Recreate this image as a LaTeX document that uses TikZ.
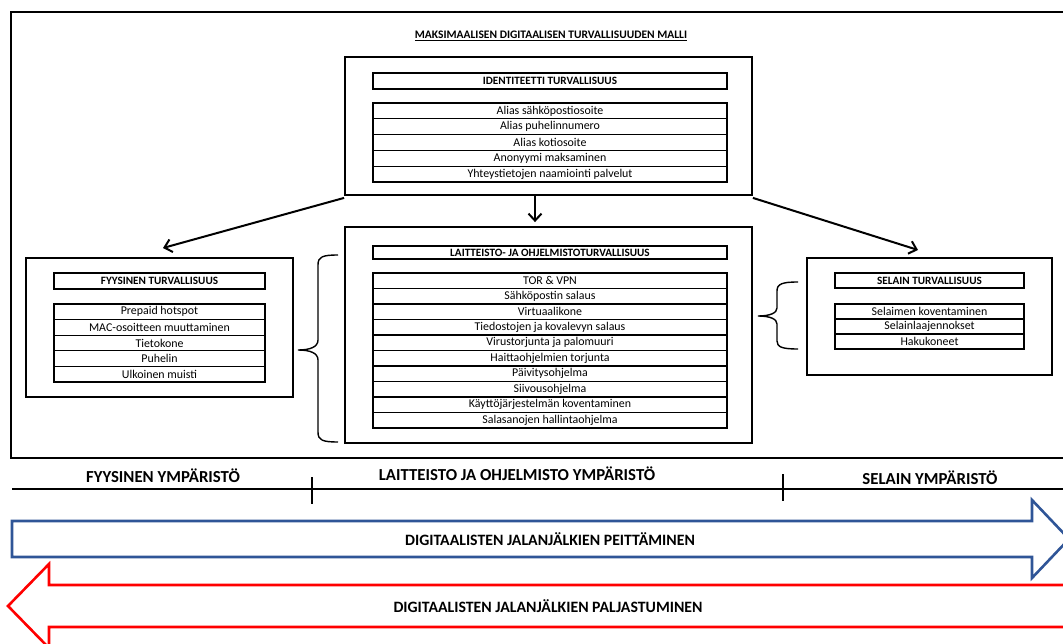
\documentclass[tikz,border=0pt]{standalone}
\usepackage{fontspec}
\setmainfont{Carlito}
\usetikzlibrary{arrows.meta}

\definecolor{arrowblue}{RGB}{47,85,151}
\definecolor{arrowred}{RGB}{255,0,0}

\begin{document}
\begin{tikzpicture}[x=1pt,y=-1pt,
  frame/.style={draw, line width=1.8pt, inner sep=0pt},
  group/.style={draw, line width=1.8pt, inner sep=0pt},
  headbox/.style={draw, line width=1.6pt, inner sep=0pt,
    font=\fontsize{11.2}{12}\selectfont\bfseries},
  item/.style={draw, line width=1.2pt, inner sep=0pt,
    font=\fontsize{11.9}{12}\selectfont},
  link/.style={line width=2pt, -{Straight Barb[length=7pt,width=13pt]}},
  brace/.style={line width=1.4pt},
  envlabel/.style={font=\fontsize{16.8}{18}\selectfont\bfseries, inner sep=0pt},
  flowlabel/.style={font=\fontsize{15.8}{18}\selectfont\bfseries, inner sep=0pt},
  bigarrow/.style={line width=2.6pt, line join=miter}
]
\useasboundingbox (0,0) rectangle (1063,644);
\clip (0,0) rectangle (1063,644);

% outer frame (runs past the right edge)
\node[frame, minimum width=1060pt, minimum height=446pt] (frame) at (541,235) {};

\node[font=\fontsize{11.5}{12}\selectfont\bfseries, inner sep=0pt] (title) at (551,36)
  {\underline{MAKSIMAALISEN DIGITAALISEN TURVALLISUUDEN MALLI}};

% identity security
\node[group, minimum width=407pt, minimum height=138pt] (idbox) at (548.5,126) {};
\node[headbox, minimum width=354pt, minimum height=16pt] (idhead) at (550,81) {IDENTITEETTI TURVALLISUUS};
\foreach \t [count=\i] in {Alias sähköpostiosoite, Alias puhelinnumero, Alias kotiosoite,
    Anonyymi maksaminen, Yhteystietojen naamiointi palvelut}
  \node[item, minimum width=354pt, minimum height=15.8pt] (id-\i) at (550,{103+15.8*\i-7.9}) {\t};

% hardware and software security
\node[group, minimum width=407pt, minimum height=216pt] (hwbox) at (548.5,335) {};
\node[headbox, minimum width=354pt, minimum height=13pt] (hwhead) at (550,252.5) {LAITTEISTO- JA OHJELMISTOTURVALLISUUS};
\foreach \t [count=\i] in {TOR \& VPN, Sähköpostin salaus, Virtuaalikone,
    Tiedostojen ja kovalevyn salaus, Virustorjunta ja palomuuri, Haittaohjelmien torjunta,
    Päivitysohjelma, Siivousohjelma, Käyttöjärjestelmän koventaminen, Salasanojen hallintaohjelma}
  \node[item, minimum width=354pt, minimum height=15.5pt] (hw-\i) at (550,{273+15.5*\i-7.75}) {\t};

% physical security
\node[group, minimum width=267pt, minimum height=139pt] (phbox) at (159.5,327.5) {};
\node[headbox, minimum width=211pt, minimum height=16pt] (phhead) at (159.5,281) {FYYSINEN TURVALLISUUS};
\foreach \t [count=\i] in {Prepaid hotspot, MAC-osoitteen muuttaminen, Tietokone,
    Puhelin, Ulkoinen muisti}
  \node[item, minimum width=211pt, minimum height=15.6pt] (ph-\i) at (159.5,{304+15.6*\i-7.8}) {\t};

% browser security
\node[group, minimum width=245pt, minimum height=117pt] (brbox) at (929.5,316.5) {};
\node[headbox, minimum width=189pt, minimum height=15pt] (brhead) at (929.5,280.5) {SELAIN TURVALLISUUS};
\foreach \t [count=\i] in {Selaimen koventaminen, Selainlaajennokset, Hakukoneet}
  \node[item, minimum width=189pt, minimum height=15pt] (br-\i) at (929.5,{304+15*\i-7.5}) {\t};

% connectors from the identity block
\coordinate (phin) at (163,248);
\coordinate (brin) at (918,250);
\draw[link] ([yshift=-2pt]idbox.south west) -- (phin);
\draw[link, shorten >=4pt] (idbox.south -| 535,0) -- (hwbox.north -| 535,0);
\draw[link] ([yshift=-2pt]idbox.south east) -- (brin);

% braces
\draw[brace] (338,255) .. controls (322,255) and (318,257) .. (318,265) -- (318,340)
  .. controls (318,347) and (310,350) .. (298,350)
  .. controls (310,350) and (318,353) .. (318,360) -- (318,432)
  .. controls (318,440) and (322,442) .. (338,442);
\draw[brace] (798,282) .. controls (782,282) and (777,284) .. (777,291) -- (777,308)
  .. controls (777,313) and (770,316) .. (758,316)
  .. controls (770,316) and (777,319) .. (777,324) -- (777,341)
  .. controls (777,347) and (782,349) .. (798,349);

% environment axis
\coordinate (axl) at (12,489);
\coordinate (axr) at (1063,489);
\draw[line width=2.4pt] (axl) -- (axr);
\coordinate (t1) at (312,477);
\coordinate (t2) at (783,474);
\draw[line width=1.6pt] (t1) -- ++(0,27);
\draw[line width=1.6pt] (t2) -- ++(0,27);
\node[envlabel] (env1) at (163,476) {FYYSINEN YMPÄRISTÖ};
\node[envlabel] (env2) at (517,474) {LAITTEISTO JA OHJELMISTO YMPÄRISTÖ};
\node[envlabel] (env3) at (930,478) {SELAIN YMPÄRISTÖ};

% hiding / exposure arrows
\draw[bigarrow, draw=arrowblue] (12,521) -- (1032,521) -- (1032,500) -- (1069,539)
  -- (1032,578) -- (1032,557) -- (12,557) -- cycle;
\node[flowlabel] (hide) at (550,539) {DIGITAALISTEN JALANJÄLKIEN PEITTÄMINEN};

\draw[bigarrow, draw=arrowred] (1075,585) -- (49,585) -- (49,564) -- (8,606)
  -- (49,648) -- (49,627) -- (1075,627);
\node[flowlabel] (expose) at (548,606) {DIGITAALISTEN JALANJÄLKIEN PALJASTUMINEN};
\end{tikzpicture}
\end{document}
